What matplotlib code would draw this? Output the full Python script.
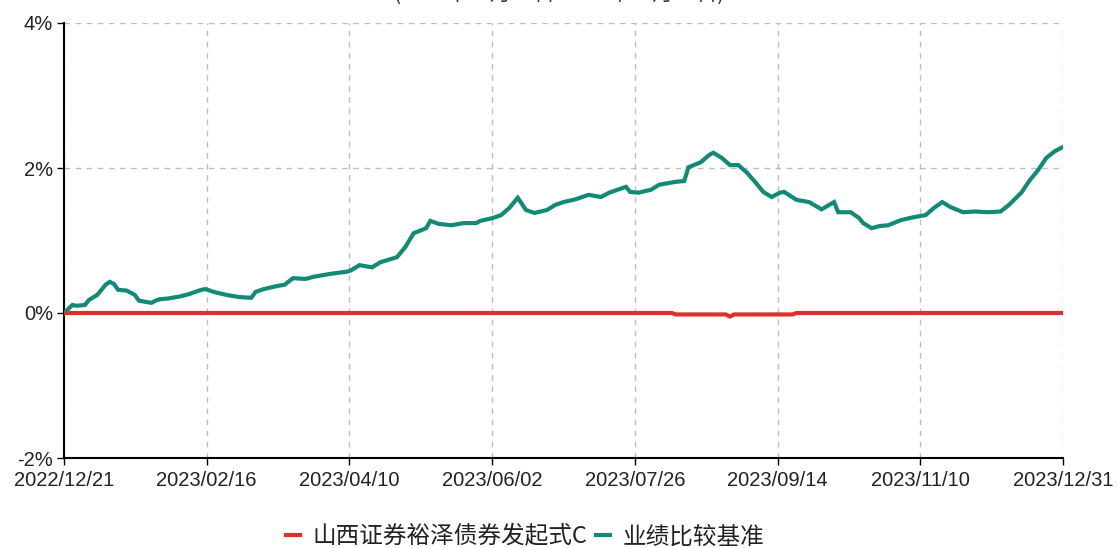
import matplotlib
matplotlib.use("Agg")
import matplotlib.pyplot as plt
from matplotlib.ticker import FuncFormatter

plt.rcParams['font.family'] = ['Liberation Sans', 'Noto Sans CJK SC', 'DejaVu Sans']

title = "(2022年12月21日-2023年12月31日)"
series_names = ["山西证券裕泽债券发起式C", "业绩比较基准"]
tick_labels = ["2022/12/21", "2023/02/16", "2023/04/10", "2023/06/02",
               "2023/07/26", "2023/09/14", "2023/11/10", "2023/12/31"]
n_days = 240

bench_idx = [0, 2, 3, 5, 6, 8, 10, 11, 12, 13, 15, 17, 18, 21, 22, 23, 25, 28, 30, 33,
             34, 36, 39, 42, 45, 46, 48, 51, 53, 55, 58, 60, 64, 68, 69, 71, 74, 76, 80, 82,
             84, 87, 88, 90, 93, 96, 99, 100, 103, 105, 107, 109, 111, 113, 116, 118, 120, 123, 126, 129,
             131, 135, 136, 138, 141, 143, 147, 149, 150, 153, 155, 156, 158, 160, 162, 164, 166, 168, 170, 172,
             173, 176, 179, 182, 185, 186, 189, 191, 192, 194, 196, 198, 201, 204, 207, 209, 211, 213, 216, 219,
             222, 225, 227, 230, 232, 234, 236, 238, 240]
bench_val = [0.00, 0.11, 0.10, 0.11, 0.18, 0.25, 0.39, 0.43, 0.40, 0.32, 0.31, 0.25, 0.17, 0.14, 0.17, 0.19, 0.20, 0.23, 0.26, 0.32,
             0.33, 0.29, 0.25, 0.22, 0.21, 0.29, 0.33, 0.37, 0.39, 0.48, 0.47, 0.50, 0.54, 0.57, 0.59, 0.66, 0.63, 0.70, 0.77, 0.91,
             1.10, 1.17, 1.27, 1.23, 1.21, 1.24, 1.24, 1.27, 1.31, 1.35, 1.45, 1.59, 1.42, 1.38, 1.42, 1.49, 1.53, 1.57, 1.63, 1.60,
             1.66, 1.74, 1.67, 1.66, 1.70, 1.77, 1.81, 1.82, 2.01, 2.08, 2.18, 2.21, 2.14, 2.04, 2.04, 1.94, 1.81, 1.67, 1.60, 1.66,
             1.67, 1.56, 1.53, 1.43, 1.53, 1.39, 1.39, 1.31, 1.24, 1.17, 1.20, 1.21, 1.28, 1.32, 1.35, 1.45, 1.53, 1.46, 1.39, 1.40,
             1.39, 1.40, 1.49, 1.66, 1.83, 1.97, 2.14, 2.23, 2.29]

fund_idx = [0, 146, 147, 159, 160, 161, 175, 176, 240]
fund_val = [0.00, 0.00, -0.02, -0.02, -0.05, -0.02, -0.02, 0.00, 0.00]

W, H = 1118, 548
fig = plt.figure(figsize=(W / 100, H / 100), dpi=100)
ax = fig.add_axes([64 / W, (H - 458) / H, 999 / W, 435 / H])

teal = "#138a78"
red = "#e0302c"
l2, = ax.plot(bench_idx, bench_val, color=teal, lw=3, solid_joinstyle='miter', zorder=3)
l1, = ax.plot(fund_idx, fund_val, color=red, lw=3, zorder=4)

ax.set_xlim(0, n_days)
ax.set_ylim(-2, 4)
ax.set_yticks([-2, 0, 2, 4])
ax.yaxis.set_major_formatter(FuncFormatter(lambda v, p: f"{v:.0f}%"))
ticks = [n_days * k / 7 for k in range(8)]
ax.set_xticks(ticks)
ax.set_xticklabels(tick_labels)
ax.tick_params(axis='both', labelsize=14.5, colors='black', length=5, width=1, labelcolor='#222222')
ax.tick_params(axis='x', pad=4)
ax.tick_params(axis='y', pad=3)

ax.grid(True, color='#bdbdbd', linestyle=(0, (4, 4)), linewidth=1)
ax.set_axisbelow(True)
for s in ['top', 'right']:
    ax.spines[s].set_visible(False)
for s in ['left', 'bottom']:
    ax.spines[s].set_linewidth(1.5)
    ax.spines[s].set_color('black')

fig.text(0.5, 1 + 6 / H, title, ha='center', va='center', fontsize=15, color='#333333',
         family=['Noto Sans CJK SC', 'DejaVu Sans'])

leg = fig.legend([l1, l2], series_names, loc='center', bbox_to_anchor=(525 / W, 1 - 537 / H),
                 ncol=2, frameon=False, handlelength=0.6, handletextpad=0.5, columnspacing=0.4,
                 prop={'family': ['Noto Sans CJK SC', 'DejaVu Sans'], 'size': 17})
for t in leg.get_texts():
    t.set_color('#222222')

fig.savefig("out.png", dpi=100)
